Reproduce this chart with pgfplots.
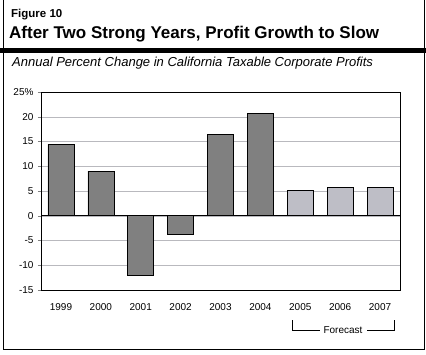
\documentclass[border=0pt]{standalone}
\usepackage{pgfplots}
\pgfplotsset{compat=1.18}
\usepackage{fontspec}
\setmainfont{Liberation Sans}
\definecolor{darkbar}{RGB}{128,128,128}
\definecolor{lightbar}{RGB}{190,190,198}
\definecolor{gridc}{RGB}{185,185,190}
\begin{document}
\begin{tikzpicture}[x=1pt,y=1pt]
\useasboundingbox (0,0) rectangle (426,354);
\draw[line width=0.8pt] (3,354.5) -- (3,5) -- (424,5) -- (424,354.5);
\fill[black] (0,301.3) rectangle (426,305.7);
\node[anchor=base west,inner sep=0,font=\fontsize{11.5}{13}\selectfont\bfseries] at (11,336.7) {Figure 10};
\node[anchor=base west,inner sep=0,font=\fontsize{17}{20}\selectfont\bfseries] at (9,315) {After Two Strong Years, Profit Growth to Slow};
\node[anchor=base west,inner sep=0,font=\fontsize{13}{15}\selectfont\itshape] at (12,287.3) {Annual Percent Change in California Taxable Corporate Profits};
\begin{axis}[
  at={(41pt,64pt)}, anchor=south west,
  scale only axis, width=359pt, height=198pt,
  xmin=-0.5, xmax=8.5, ymin=-15, ymax=25,
  xtick={0,...,8},
  xticklabels={1999,2000,2001,2002,2003,2004,2005,2006,2007},
  xtick style={draw=none},
  xticklabel style={yshift=-7pt},
  ytick={-15,-10,...,25},
  yticklabels={-15,-10,-5,0,5,10,15,20,25\%},
  yticklabel style={xshift=-1pt},
  ytick pos=left, tick align=outside, major tick length=3pt,
  ymajorgrids, grid style={gridc, line width=0.5pt},
  tick label style={font=\fontsize{10}{12}\selectfont},
  /pgf/number format/assume math mode=true,
  axis line style={line width=0.7pt},
  ybar, bar width=26pt,
]
\addplot[fill=darkbar, draw=black, line width=0.6pt, bar shift=0pt] coordinates {(0,14.4) (1,9.0) (2,-12.1) (3,-3.8) (4,16.5) (5,20.6)};
\addplot[fill=lightbar, draw=black, line width=0.6pt, bar shift=0pt] coordinates {(6,5.1) (7,5.7) (8,5.7)};
\draw[black, line width=0.7pt] (axis cs:-0.5,0) -- (axis cs:8.5,0);
\end{axis}
\draw[line width=0.6pt] (292,34) -- (292,24) -- (320,24);
\draw[line width=0.6pt] (367,24) -- (394,24) -- (394,34);
\node[font=\fontsize{10}{12}\selectfont,inner sep=0] at (343,24) {Forecast};
\end{tikzpicture}
\end{document}
